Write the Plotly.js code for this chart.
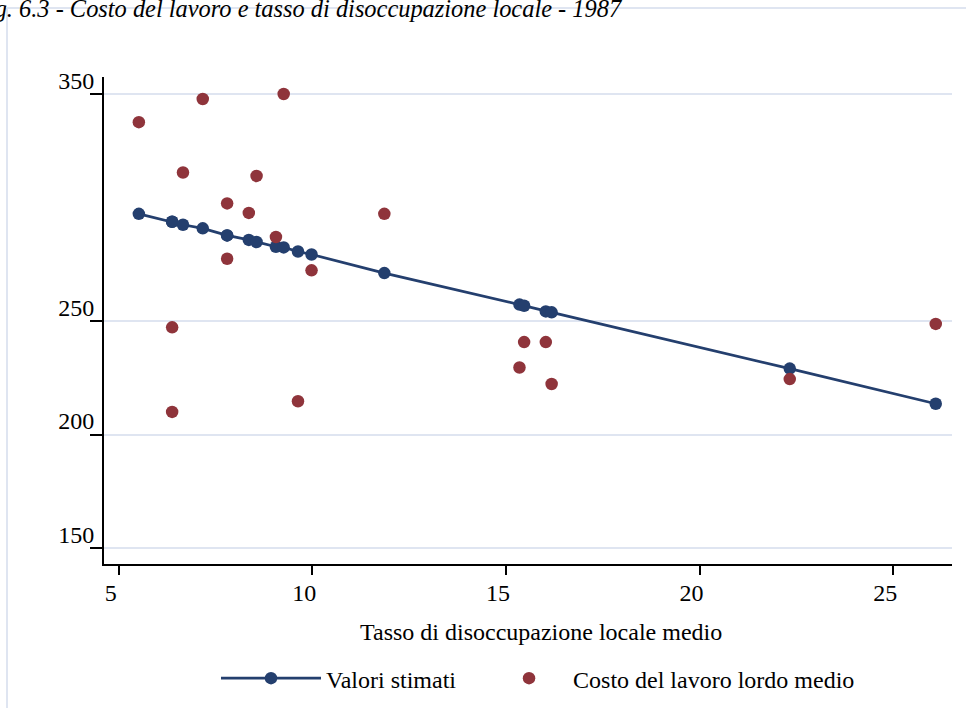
<!DOCTYPE html>
<html>
<head>
<meta charset="utf-8">
<script src="https://cdn.plot.ly/plotly-3.0.1.min.js"></script>
<style>
  html, body { margin: 0; padding: 0; background: #ffffff; }
  #chart { width: 966px; height: 708px; }
</style>
</head>
<body>
<div id="chart"></div>
<script>
// Tasso di disoccupazione locale medio (one value per observation)
const tassoDisoccupazione = [5.52, 6.38, 6.38, 6.66, 7.17, 7.80, 7.80, 8.36, 8.56, 9.06,
                             9.26, 9.63, 9.98, 11.86, 15.35, 15.47, 16.03, 16.18, 22.33, 26.10];
// Costo del lavoro lordo medio (observed)
const costoLavoro = [337.8, 247.4, 210.1, 315.6, 348.0, 302.0, 277.6, 297.8, 314.1, 287.2,
                     350.2, 214.8, 272.5, 297.4, 229.7, 240.9, 240.9, 222.4, 224.6, 248.9];
// Valori stimati (fitted values)
const valoriStimati = [297.4, 293.9, 293.9, 292.6, 291.0, 287.9, 287.9, 285.9, 285.0, 282.9,
                       282.6, 280.8, 279.5, 271.3, 257.4, 256.9, 254.4, 254.0, 229.2, 213.7];

const xTicks = [5, 10, 15, 20, 25];
const yTicks = [150, 200, 250, 350];

const chartTitle = "Fig. 6.3 - Costo del lavoro e tasso di disoccupazione locale - 1987";
const xTitle = "Tasso di disoccupazione locale medio";
const seriesNames = ["Valori stimati", "Costo del lavoro lordo medio"];

const NAVY = "#243f6e";
const MAROON = "#8f343b";
const GRID = "#dfe5f1";
const FONT = "Liberation Serif, Times New Roman, serif";

const traces = [
  {
    type: "scatter",
    mode: "lines+markers",
    name: seriesNames[0],
    x: tassoDisoccupazione,
    y: valoriStimati,
    line: { color: NAVY, width: 2.7 },
    marker: { color: NAVY, size: 12.5 },
    legend: "legend"
  },
  {
    type: "scatter",
    mode: "markers",
    name: seriesNames[1],
    x: tassoDisoccupazione,
    y: costoLavoro,
    marker: { color: MAROON, size: 12.5 },
    legend: "legend2"
  }
];

const legendCommon = {
  orientation: "h",
  xref: "container",
  yref: "container",
  xanchor: "left",
  y: 0.0734, yanchor: "top",
  font: { family: FONT, size: 24, color: "#000000" },
  bgcolor: "rgba(0,0,0,0)"
};

const layout = {
  width: 966,
  height: 708,
  margin: { l: 104, r: 14, t: 77, b: 144 },
  paper_bgcolor: "#ffffff",
  plot_bgcolor: "#ffffff",
  font: { family: FONT, size: 24, color: "#000000" },
  showlegend: true,
  legend: Object.assign({}, legendCommon, { x: 0.2236, itemwidth: 100 }),
  legend2: Object.assign({}, legendCommon, { x: 0.5021, itemwidth: 78 }),
  xaxis: {
    range: [4.62, 26.52],
    tickvals: xTicks,
    ticktext: xTicks.map(String),
    ticks: "outside",
    ticklen: 9,
    tickwidth: 2,
    tickcolor: "#000",
    showline: true,
    linecolor: "#000",
    linewidth: 2,
    showgrid: false,
    zeroline: false,
    ticklabelshift: -8,
    ticklabelstandoff: -3,
    tickfont: { family: FONT, size: 24, color: "#000" }
  },
  yaxis: {
    range: [143.1, 357.7],
    tickvals: yTicks,
    ticktext: yTicks.map(String),
    ticks: "outside",
    ticklen: 12,
    tickwidth: 2,
    tickcolor: "#000",
    showline: true,
    linecolor: "#000",
    linewidth: 2,
    showgrid: true,
    gridcolor: GRID,
    gridwidth: 2,
    zeroline: false,
    ticklabelshift: -14,
    ticklabelstandoff: -9,
    tickfont: { family: FONT, size: 24, color: "#000" }
  },
  annotations: [
    {
      xref: "paper", yref: "paper",
      x: -0.158, y: 1.1405, xanchor: "left", yanchor: "middle",
      text: "<i>" + chartTitle + "</i>",
      showarrow: false,
      font: { family: FONT, size: 24.4, color: "#000" }
    },
    {
      xref: "paper", yref: "paper",
      x: 0.5153, y: -0.139, xanchor: "center", yanchor: "middle",
      text: xTitle,
      showarrow: false,
      font: { family: FONT, size: 24, color: "#000" }
    }
  ],
  shapes: [
    { type: "line", xref: "paper", yref: "paper", x0: -0.1144, x1: 1.0165, y0: 1.1417, y1: 1.1417,
      line: { color: GRID, width: 2 }, layer: "below" },
    { type: "line", xref: "paper", yref: "paper", x0: -0.1144, x1: -0.1144, y0: 1.1417, y1: -0.2957,
      line: { color: GRID, width: 2 }, layer: "below" }
  ]
};

Plotly.newPlot("chart", traces, layout, { displayModeBar: false, staticPlot: true });
</script>
</body>
</html>
